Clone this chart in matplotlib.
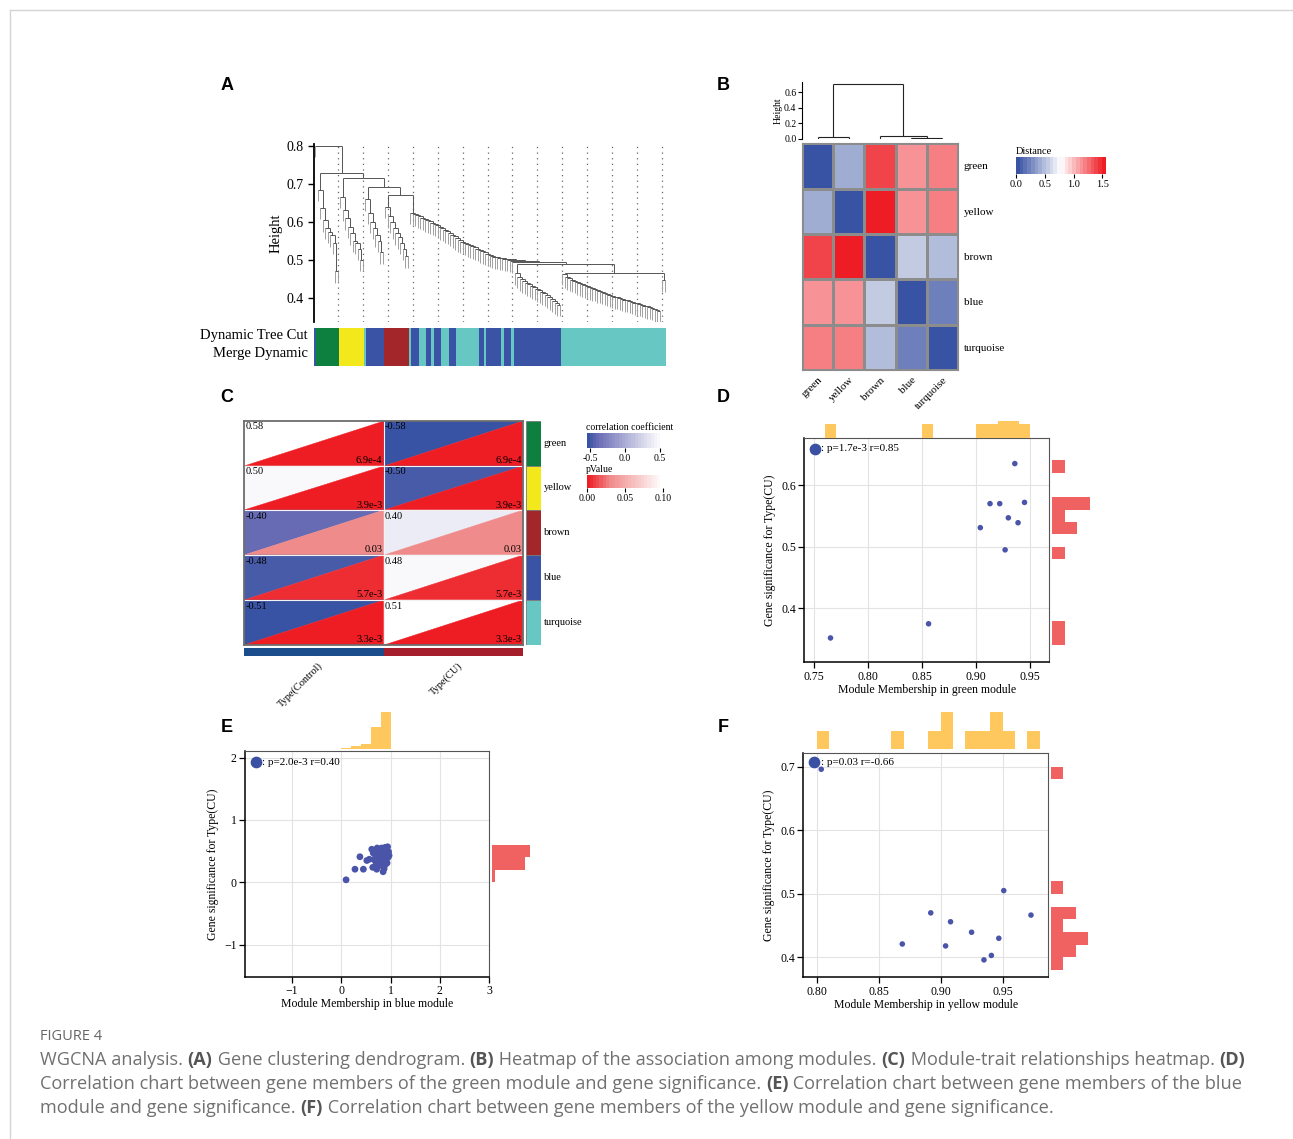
import numpy as np
import matplotlib
matplotlib.use('Agg')
import matplotlib.pyplot as plt
from matplotlib.colors import LinearSegmentedColormap, Normalize
from matplotlib.collections import LineCollection
from matplotlib.patches import Polygon, Rectangle
from matplotlib.lines import Line2D
from matplotlib.cm import ScalarMappable
from matplotlib.ticker import FormatStrFormatter

W, H = 1293, 1139
SERIF = 'Liberation Serif'
plt.rcParams['font.family'] = SERIF

# --------------------------------------------------
# A: gene dendrogram, merge heights
green_h = [0.685, 0.637, 0.605, 0.585, 0.575, 0.565, 0.545, 0.47]
yellow_h = [0.667, 0.632, 0.61, 0.588, 0.57, 0.55, 0.545, 0.53, 0.50]
blue1_h = [0.66, 0.625, 0.60, 0.585, 0.565, 0.55, 0.52]
brown_h = [0.64, 0.615, 0.60, 0.585, 0.57, 0.56, 0.545, 0.53, 0.51]
stair_h = [0.625, 0.622, 0.619, 0.615, 0.611, 0.608, 0.605, 0.602, 0.598,
           0.595, 0.592, 0.588, 0.584, 0.580, 0.576, 0.572, 0.567, 0.562,
           0.557, 0.552, 0.548, 0.545, 0.542, 0.539, 0.536, 0.533, 0.530,
           0.527, 0.523, 0.520, 0.517, 0.514, 0.511, 0.509, 0.507, 0.506,
           0.505, 0.504, 0.502, 0.500, 0.498, 0.496]
blue2_h = [0.465, 0.456, 0.449, 0.444, 0.440, 0.436, 0.432, 0.428, 0.424,
           0.420, 0.416, 0.412, 0.408, 0.403, 0.398, 0.393, 0.388, 0.382]
turq_h = [0.463, 0.456, 0.452, 0.448, 0.445, 0.442, 0.439, 0.436, 0.433,
          0.431, 0.428, 0.426, 0.423, 0.421, 0.418, 0.416, 0.413, 0.411,
          0.408, 0.406, 0.404, 0.402, 0.400, 0.398, 0.396, 0.394, 0.392,
          0.390, 0.388, 0.386, 0.384, 0.382, 0.380, 0.378, 0.376, 0.374,
          0.371, 0.368, 0.365]
upper_h = {'root': 0.80, 'a': 0.728, 'c': 0.717, 'd': 0.693, 'e': 0.671,
           'join': 0.490, 'turq': 0.467, 'pair': 0.447}

module_runs = [('blue', 1), ('green', 9), ('yellow', 10), ('turquoise', 1),
               ('blue', 7), ('brown', 10), ('turquoise', 1), ('blue', 3),
               ('turquoise', 3), ('blue', 2), ('turquoise', 1), ('blue', 3),
               ('turquoise', 3), ('blue', 3), ('turquoise', 9), ('blue', 2),
               ('turquoise', 1), ('blue', 6), ('turquoise', 1), ('blue', 3),
               ('turquoise', 1), ('blue', 19), ('turquoise', 42)]
module_colors = {'blue': '#3b53a4', 'green': '#0d8040', 'yellow': '#f2e81b',
                 'brown': '#a3262a', 'turquoise': '#66c7c3'}

# B: module eigengene distances
modules = ['green', 'yellow', 'brown', 'blue', 'turquoise']
module_dist = [[0.00, 0.44, 1.41, 1.13, 1.18],
               [0.44, 0.00, 1.56, 1.13, 1.18],
               [1.41, 1.56, 0.00, 0.56, 0.47],
               [1.13, 1.13, 0.56, 0.00, 0.23],
               [1.18, 1.18, 0.47, 0.23, 0.00]]
me_tree_h = {'gy': 0.022, 'bt': 0.010, 'bbt': 0.040, 'root': 0.71}

# C: module-trait relationships
traits = ['Type(Control)', 'Type(CU)']
trait_colors = ['#1b4c8c', '#a41f2b']
trait_cor = [[0.58, -0.58], [0.50, -0.50], [-0.40, 0.40],
             [-0.48, 0.48], [-0.51, 0.51]]
trait_p = [6.9e-4, 3.9e-3, 0.03, 5.7e-3, 3.3e-3]
trait_p_text = ['6.9e-4', '3.9e-3', '0.03', '5.7e-3', '3.3e-3']

# D/E/F: module membership vs gene significance
green_mm = [0.765, 0.856, 0.904, 0.913, 0.922, 0.930, 0.939, 0.945, 0.927, 0.936]
green_gs = [0.352, 0.375, 0.531, 0.570, 0.570, 0.547, 0.539, 0.572, 0.495, 0.635]

blue_mm = [0.10, 0.28, 0.38, 0.45, 0.52, 0.57,
           0.62, 0.64, 0.65, 0.67, 0.68, 0.70, 0.71, 0.72, 0.73, 0.74, 0.75,
           0.76, 0.78, 0.79,
           0.80, 0.81, 0.82, 0.83, 0.84, 0.85, 0.85, 0.86, 0.87, 0.87, 0.88,
           0.89, 0.89, 0.90, 0.91, 0.92, 0.92, 0.93, 0.94, 0.94, 0.95, 0.96,
           0.97]
blue_gs = [0.04, 0.21, 0.41, 0.21, 0.35, 0.37,
           0.53, 0.24, 0.47, 0.36, 0.51, 0.42, 0.30, 0.21, 0.55, 0.39, 0.33,
           0.46, 0.28, 0.52,
           0.43, 0.36, 0.55, 0.48, 0.26, 0.17, 0.39, 0.50, 0.22, 0.44, 0.33,
           0.56, 0.41, 0.29, 0.47, 0.52, 0.38, 0.31, 0.57, 0.45, 0.40, 0.49,
           0.43]

yellow_mm = [0.8035, 0.869, 0.892, 0.904, 0.908, 0.925, 0.935, 0.941, 0.947,
             0.951, 0.973]
yellow_gs = [0.696, 0.421, 0.470, 0.418, 0.456, 0.4395, 0.396, 0.403, 0.430,
             0.505, 0.4665]

caption_lines = [
    [('WGCNA analysis. ', False), ('(A)', True),
     (' Gene clustering dendrogram. ', False), ('(B)', True),
     (' Heatmap of the association among modules. ', False), ('(C)', True),
     (' Module-trait relationships heatmap. ', False), ('(D)', True)],
    [('Correlation chart between gene members of the green module and gene '
      'significance. ', False), ('(E)', True),
     (' Correlation chart between gene members of the blue', False)],
    [('module and gene significance. ', False), ('(F)', True),
     (' Correlation chart between gene members of the yellow module and gene '
      'significance.', False)],
]


# --------------------------------------------------
def px_axes(x0, y0, x1, y1):
    """Axes placed by pixel box (top-left origin)"""
    return fig.add_axes([x0 / W, 1 - y1 / H, (x1 - x0) / W, (y1 - y0) / H])


def px_text(x, y, s, **kw):
    return fig.text(x / W, 1 - y / H, s, **kw)


def ladder(heights, tail=None):
    node = tail
    for h in reversed(heights):
        node = (h, None, node)
    return node


def tree_segments(node, counter, hang, inner, leaves, floor=None):
    if node is None:
        counter[0] += 1
        return counter[0], None
    h, left, right = node
    xl, hl = tree_segments(left, counter, hang, inner, leaves, floor)
    xr, hr = tree_segments(right, counter, hang, inner, leaves, floor)
    for x, hc in ((xl, hl), (xr, hr)):
        if hc is None:
            bottom = floor if floor is not None else h - hang
            leaves.append([(x, bottom), (x, h)])
        else:
            inner.append([(x, hc), (x, h)])
    inner.append([(xl, h), (xr, h)])
    return (xl + xr) / 2, h


fig = plt.figure(figsize=(W / 100, H / 100), dpi=100)

# frame of the figure card
fig.add_artist(Line2D([10 / W, 1], [1 - 10 / H] * 2, color='#d5d5d5', lw=1))
fig.add_artist(Line2D([10 / W] * 2, [0, 1 - 10 / H], color='#d5d5d5', lw=1))

for lab, (x, y) in zip('ABCDEF', [(227, 85), (723, 85), (227, 398),
                                   (723, 398), (227, 727), (723, 727)]):
    px_text(x, y, lab, family='Liberation Sans', weight='bold', fontsize=13,
            ha='center', va='center')

# ---------------- A ----------------
tree = (upper_h['root'], None,
        (upper_h['a'], ladder(green_h),
         (upper_h['c'], ladder(yellow_h),
          (upper_h['d'], ladder(blue1_h),
           (upper_h['e'], ladder(brown_h),
            ladder(stair_h, tail=(upper_h['join'], ladder(blue2_h),
                                  (upper_h['turq'], ladder(turq_h),
                                   (upper_h['pair'], None, None)))))))))
inner, leaves = [], []
counter = [0]
tree_segments(tree, counter, 0.03, inner, leaves)
n_leaves = counter[0]

axA = px_axes(314, 144.1, 666, 321.6)
axA.add_collection(LineCollection(leaves, colors='#a0a0a0', lw=0.7))
axA.add_collection(LineCollection(inner, colors='#555555', lw=0.7))
axA.set_xlim(0.5, n_leaves + 0.5)
axA.set_ylim(0.338, 0.805)
for s in ('top', 'right', 'bottom'):
    axA.spines[s].set_visible(False)
axA.spines['left'].set_linewidth(1.3)
axA.set_xticks(np.arange(10, n_leaves, 10))
axA.tick_params(axis='x', length=0, labelbottom=False)
axA.grid(axis='x', color='#666666', linestyle=(0, (1, 3.5)), lw=0.9)
axA.set_axisbelow(True)
axA.set_yticks([0.4, 0.5, 0.6, 0.7, 0.8])
axA.tick_params(axis='y', labelsize=10, length=4, width=1, direction='out')
axA.set_ylabel('Height', fontsize=10.5, labelpad=3)

axAc = px_axes(314, 328, 666, 366)
start = 0.5
for name, n in module_runs:
    for row in (0, 1):
        axAc.broken_barh([(start, n)], (row, 1), facecolors=module_colors[name],
                         edgecolor='none')
    start += n
axAc.set_xlim(0.5, n_leaves + 0.5)
axAc.set_ylim(2, 0)
axAc.axis('off')
px_text(308, 335, 'Dynamic Tree Cut', fontsize=10.5, ha='right', va='center')
px_text(308, 354, 'Merge Dynamic', fontsize=10.5, ha='right', va='center')

# ---------------- B ----------------
me_tree = (me_tree_h['root'], (me_tree_h['gy'], None, None),
           (me_tree_h['bbt'], None, (me_tree_h['bt'], None, None)))
inner, leaves = [], []
tree_segments(me_tree, [0], 0, inner, leaves, floor=0)
axBd = px_axes(802, 81.7, 958, 139)
axBd.add_collection(LineCollection(inner + leaves, colors='#222222', lw=0.8))
axBd.set_xlim(0.5, 5.5)
axBd.set_ylim(0, 0.734)
for s in ('top', 'right', 'bottom'):
    axBd.spines[s].set_visible(False)
axBd.set_xticks([])
axBd.set_yticks([0, 0.2, 0.4, 0.6])
axBd.yaxis.set_major_formatter(FormatStrFormatter('%.1f'))
axBd.tick_params(axis='y', labelsize=7, length=3, pad=1)
axBd.set_ylabel('Height', fontsize=7, labelpad=1)

dist_cmap = LinearSegmentedColormap.from_list(
    'dist', ['#3953a4', '#ffffff', '#ee1c24'], N=24)
dist_norm = Normalize(0, 1.56)
axB = px_axes(802, 143.3, 958, 370)
edges = np.arange(0.5, 6, 1)
axB.pcolormesh(edges, edges, np.array(module_dist), cmap=dist_cmap,
               norm=dist_norm, edgecolors='#8c8c8c', linewidth=1)
axB.set_xlim(0.5, 5.5)
axB.set_ylim(5.5, 0.5)
for s in axB.spines.values():
    s.set_color('#8c8c8c')
axB.yaxis.tick_right()
axB.set_yticks(range(1, 6))
axB.set_yticklabels(modules, fontsize=8)
axB.set_xticks(range(1, 6))
axB.set_xticklabels(modules, fontsize=8, rotation=45, ha='right',
                    rotation_mode='anchor')
axB.tick_params(length=0, pad=4)

caxB = px_axes(1016, 157, 1105.7, 174.3)
cb = fig.colorbar(ScalarMappable(dist_norm, dist_cmap), cax=caxB,
                  orientation='horizontal')
cb.outline.set_visible(False)
cb.set_ticks([0, 0.5, 1.0, 1.5])
cb.ax.tick_params(labelsize=7.5, length=3, pad=1)
px_text(1016, 151, 'Distance', fontsize=7.5, va='center')

# ---------------- C ----------------
cor_cmap = LinearSegmentedColormap.from_list(
    'cor', [(0, '#3953a4'), (0.14, '#6a6db5'), (0.86, '#ebebf5'),
            (1, '#ffffff')], N=24)
cor_norm = Normalize(-0.55, 0.55)
p_cmap = LinearSegmentedColormap.from_list(
    'pv', [(0, '#ee1d23'), (0.3, '#f08a8a'), (1, '#ffffff')], N=24)
p_norm = Normalize(0, 0.10)

axC = px_axes(244, 420.7, 523.3, 645)
for r in range(len(modules)):
    for c in range(len(traits)):
        x0, x1, yt, yb = c, c + 1, r, r + 1
        fc = cor_cmap(cor_norm(trait_cor[r][c]))
        axC.add_patch(Polygon([(x0, yb), (x0, yt), (x1, yt)], closed=True,
                              facecolor=fc, edgecolor=fc, lw=0.3))
        fc = p_cmap(p_norm(trait_p[r]))
        axC.add_patch(Polygon([(x0, yb), (x1, yb), (x1, yt)], closed=True,
                              facecolor=fc, edgecolor=fc, lw=0.3))
        axC.text(x0 + 0.01, yt + 0.04, '%.2f' % trait_cor[r][c],
                 fontsize=7.5, ha='left', va='top')
        axC.text(x1 - 0.01, yb - 0.02, trait_p_text[r],
                 fontsize=7.5, ha='right', va='bottom')
for r in range(1, len(modules)):
    axC.axhline(r, color='#f2f2f2', lw=0.8)
axC.axvline(1, color='#f2f2f2', lw=0.8)
axC.set_xlim(0, 2)
axC.set_ylim(5, 0)
axC.set_xticks([])
axC.set_yticks([])
for s in axC.spines.values():
    s.set_color('#6d6d6d')
    s.set_linewidth(1.3)

axCm = px_axes(526, 420.7, 541, 645)
for r, name in enumerate(modules):
    axCm.add_patch(Rectangle((0, r), 1, 1, facecolor=module_colors[name],
                             edgecolor='#7a7a7a', lw=0.6))
    axCm.text(1.2, r + 0.5, name, fontsize=7.5, va='center', ha='left')
axCm.set_xlim(0, 1)
axCm.set_ylim(5, 0)
axCm.axis('off')

axCt = px_axes(244, 648.3, 523.3, 655.5)
for c, col in enumerate(trait_colors):
    axCt.add_patch(Rectangle((c, 0), 1, 1, facecolor=col, edgecolor='none'))
axCt.set_xlim(0, 2)
axCt.set_ylim(0, 1)
axCt.axis('off')
for c, name in enumerate(traits):
    cx = 244 + (c + 0.5) * (523.3 - 244) / 2
    px_text(cx + 4, 661, name, fontsize=7.5, rotation=45, ha='right',
            va='top', rotation_mode='anchor')

caxC1 = px_axes(586.7, 433, 663.3, 448)
cb = fig.colorbar(ScalarMappable(cor_norm, cor_cmap), cax=caxC1,
                  orientation='horizontal')
cb.outline.set_visible(False)
cb.set_ticks([-0.5, 0, 0.5])
cb.ax.xaxis.set_major_formatter(FormatStrFormatter('%.1f'))
cb.ax.tick_params(labelsize=7, length=3, pad=1)
px_text(586, 428, 'correlation coefficient', fontsize=7, va='center')

caxC2 = px_axes(586.7, 474.5, 663.3, 488)
cb = fig.colorbar(ScalarMappable(p_norm, p_cmap), cax=caxC2,
                  orientation='horizontal')
cb.outline.set_visible(False)
cb.set_ticks([0, 0.05, 0.10])
cb.ax.xaxis.set_major_formatter(FormatStrFormatter('%.2f'))
cb.ax.tick_params(labelsize=7, length=3, pad=1)
px_text(586, 469, 'pValue', fontsize=7, va='center')


# ---------------- D / E / F ----------------
def scatter_panel(box, xlim, ylim, xticks, yticks, xfmt, yfmt, mm, gs,
                  xbins, ybins, top_box, top_lim, right_box, right_lim,
                  legend_xy, legend_text, module, size):
    ax = px_axes(*box)
    ax.scatter(mm, gs, s=size, color='#4a55aa', edgecolors='none', zorder=3)
    ax.set_xlim(*xlim)
    ax.set_ylim(*ylim)
    ax.set_xticks(xticks)
    ax.set_yticks(yticks)
    if xfmt:
        ax.xaxis.set_major_formatter(FormatStrFormatter(xfmt))
    if yfmt:
        ax.yaxis.set_major_formatter(FormatStrFormatter(yfmt))
    ax.grid(color='#e3e3e3', lw=0.8)
    ax.set_axisbelow(True)
    ax.tick_params(labelsize=8.5, length=4, width=0.9, direction='out', pad=2)
    for s in ('left', 'bottom'):
        ax.spines[s].set_linewidth(1.1)
    for s in ('top', 'right'):
        ax.spines[s].set_color('#555555')
        ax.spines[s].set_linewidth(0.8)
    ax.set_xlabel('Module Membership in %s module' % module, fontsize=8.5,
                  labelpad=1)
    ax.set_ylabel('Gene significance for Type(CU)', fontsize=8.5, labelpad=4)
    ax.scatter([legend_xy[0]], [legend_xy[1]], s=55, color='#3a50a3',
               transform=ax.transAxes, clip_on=False, zorder=4)
    ax.text(legend_xy[0] + 0.026, legend_xy[1], legend_text, fontsize=8,
            transform=ax.transAxes, va='center', ha='left', zorder=5)

    axt = px_axes(*top_box)
    axt.hist(mm, bins=xbins, color='#fec85f', edgecolor='none')
    axt.set_xlim(*xlim)
    axt.set_ylim(0, top_lim)
    axt.axis('off')

    axr = px_axes(*right_box)
    axr.hist(gs, bins=ybins, orientation='horizontal', color='#f06262',
             edgecolor='none')
    axr.set_ylim(*ylim)
    axr.set_xlim(0, right_lim)
    axr.axis('off')
    return ax


scatter_panel((804.3, 437.7, 1049.3, 662.3), (0.7407, 0.968), (0.3125, 0.677),
              [0.75, 0.80, 0.85, 0.90, 0.95], [0.4, 0.5, 0.6], '%.2f', '%.1f',
              green_mm, green_gs,
              np.round(np.arange(0.76, 0.955, 0.01), 3),
              np.round(np.arange(0.34, 0.655, 0.02), 3),
              (804.3, 421, 1049.3, 437.7), 1.19,
              (1052.3, 437.7, 1090, 662.3), 3,
              (0.044, 0.95), ': p=1.7e-3 r=0.85', 'green', 16)

scatter_panel((245, 751, 489.3, 976.7), (-1.947, 3.0), (-1.515, 2.107),
              [-1, 0, 1, 2, 3], [-1, 0, 1, 2], None, None,
              blue_mm, blue_gs,
              np.round(np.arange(0, 1.01, 0.2), 3),
              np.round(np.arange(0, 0.61, 0.2), 3),
              (245, 712, 489.3, 749.3), 23,
              (491.7, 751, 530, 976.7), 22,
              (0.045, 0.951), ': p=2.0e-3 r=0.40', 'blue', 24)

scatter_panel((803.3, 752.7, 1048.3, 977.3), (0.789, 0.987), (0.3686, 0.722),
              [0.80, 0.85, 0.90, 0.95], [0.4, 0.5, 0.6, 0.7], '%.2f', '%.1f',
              yellow_mm, yellow_gs,
              np.round(np.arange(0.80, 0.985, 0.01), 3),
              np.round(np.arange(0.38, 0.715, 0.02), 3),
              (803.3, 712, 1048.3, 749.3), 2,
              (1051, 752.7, 1088.3, 977.3), 3,
              (0.045, 0.957), ': p=0.03 r=-0.66', 'yellow', 16)

# ---------------- caption ----------------
px_text(40, 1036, 'FIGURE 4', family='Open Sans', fontsize=10.5,
        color='#666666', va='center')
renderer = fig.canvas.get_renderer()
for i, parts in enumerate(caption_lines):
    x = 40
    y = 1060 + 24 * i
    for s, bold in parts:
        t = px_text(x, y, s, family='Open Sans', fontsize=13.05,
                    weight='bold' if bold else 'normal',
                    color='#555555' if bold else '#707070', va='center')
        x += t.get_window_extent(renderer=renderer).width

fig.savefig('out.png', dpi=100)
